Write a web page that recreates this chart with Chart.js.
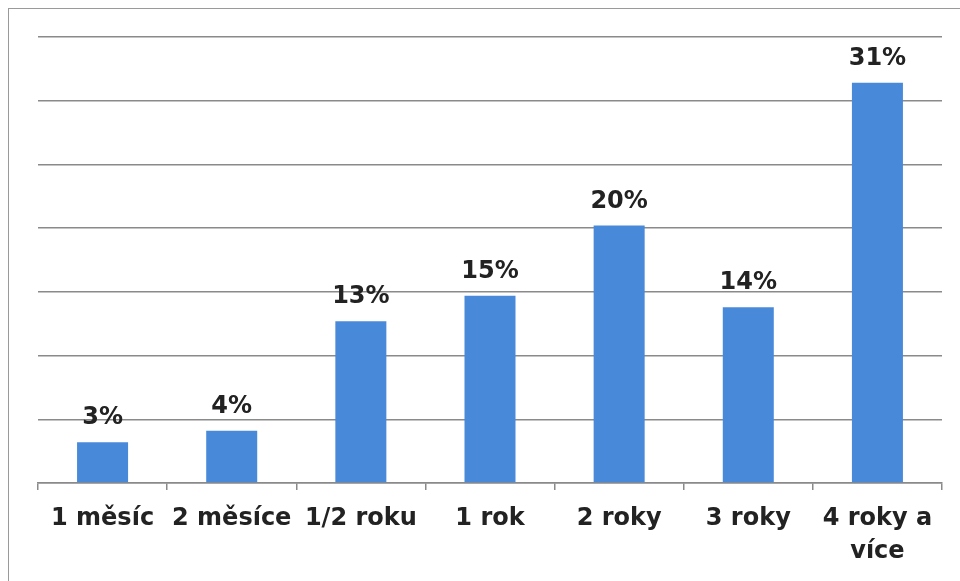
<!DOCTYPE html>
<html>
<head>
<meta charset="utf-8">
<script src="https://cdn.jsdelivr.net/npm/chart.js@4/dist/chart.umd.min.js"></script>
<style>
  html, body { margin: 0; padding: 0; background: #fff; }
  #wrap { position: relative; width: 960px; height: 581px; }
  #frame { position: absolute; left: 8px; top: 8px; right: -10px; bottom: -10px;
           border-left: 1.5px solid #9a9a9a; border-top: 1.5px solid #9a9a9a; pointer-events: none; }
</style>
</head>
<body>
<div id="wrap">
  <canvas id="chart_duration" width="960" height="581"></canvas>
  <div id="frame"></div>
</div>
<script>
// categories (x axis)
const categories = ['1 měsíc', '2 měsíce', '1/2 roku', '1 rok', '2 roky', '3 roky', ['4 roky a', 'více']];
// bar heights in %
const shares = [3.2, 4.1, 12.7, 14.7, 20.2, 13.8, 31.4];
// labels printed above the bars
const shareLabels = ['3%', '4%', '13%', '15%', '20%', '14%', '31%'];

const textFont = { family: '"DejaVu Sans", sans-serif', weight: 'bold', size: 24 };

// draw the value labels above each bar
const barLabels = {
    id: 'barLabels',
    afterDatasetsDraw(chart) {
        const ctx = chart.ctx;
        const meta = chart.getDatasetMeta(0);
        ctx.save();
        ctx.font = `bold ${textFont.size}px ${textFont.family}`;
        ctx.fillStyle = '#222';
        ctx.textAlign = 'center';
        ctx.textBaseline = 'alphabetic';
        meta.data.forEach((bar, i) => {
            ctx.fillText(shareLabels[i], bar.x, bar.y - 18);
        });
        ctx.restore();
    }
};

new Chart(document.getElementById('chart_duration'), {
    type: 'bar',
    data: {
        labels: categories,
        datasets: [{
            data: shares,
            backgroundColor: '#4889DA',
            barPercentage: 0.395,
            categoryPercentage: 1.0,
        }],
    },
    options: {
        responsive: false,
        animation: false,
        layout: { padding: { left: 38, right: 18, top: 37, bottom: 0 } },
        plugins: {
            legend: { display: false },
            tooltip: { enabled: false },
        },
        scales: {
            x: {
                offset: true,
                grid: { offset: true, drawOnChartArea: false, drawTicks: true, tickLength: 7, color: '#8a8a8a', lineWidth: 1.5 },
                border: { display: true, color: '#8a8a8a', width: 1.5 },
                ticks: { color: '#222', font: { ...textFont, lineHeight: 1.375 }, padding: 12, maxRotation: 0, autoSkip: false },
                afterFit: (s) => { s.height = 98; },
            },
            y: {
                min: 0,
                max: 35,
                ticks: { display: false, stepSize: 5 },
                grid: { color: '#8a8a8a', lineWidth: 1.5, drawTicks: false },
                border: { display: false },
                afterFit: (s) => { s.width = 0; },
            },
        },
    },
    plugins: [barLabels],
});
</script>
</body>
</html>
